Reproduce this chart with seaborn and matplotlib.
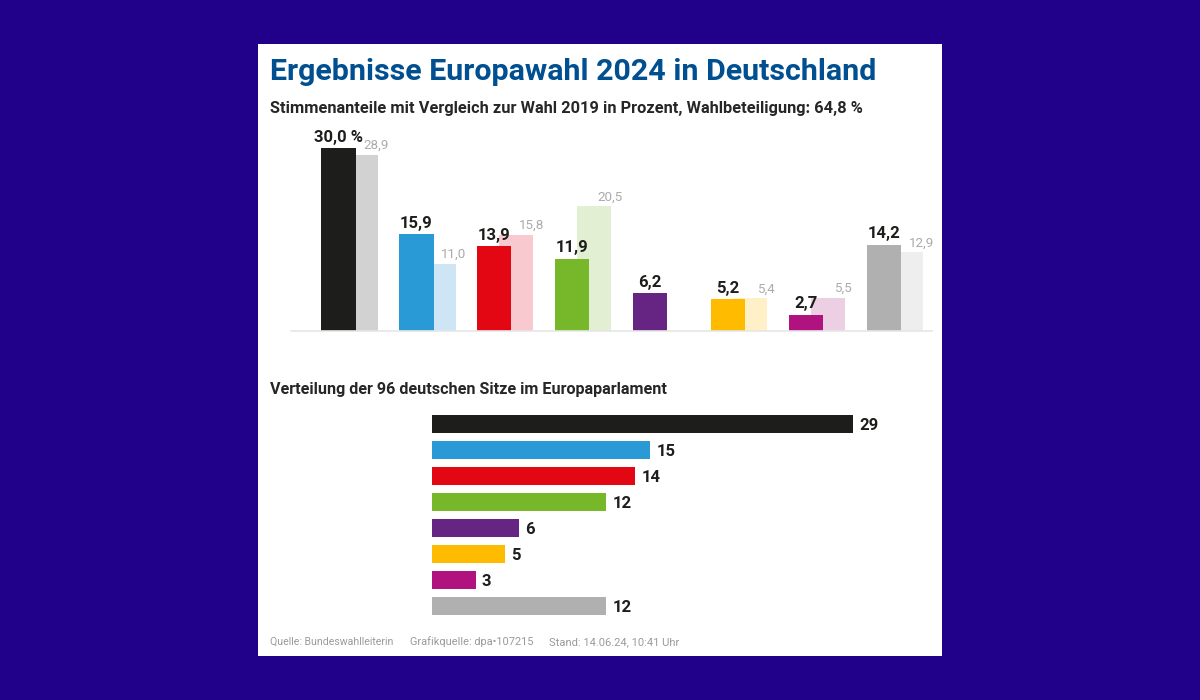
import numpy as np
import seaborn as sns
import matplotlib
matplotlib.use("Agg")
import matplotlib.pyplot as plt
from matplotlib.patches import Rectangle

parties = ["Union", "AfD", "SPD", "Grüne", "BSW", "FDP", "Linke", "Sonstige"]
votes_2024 = [30.0, 15.9, 13.9, 11.9, 6.2, 5.2, 2.7, 14.2]
votes_2019 = [28.9, 11.0, 15.8, 20.5, np.nan, 5.4, 5.5, 12.9]
seats = [29, 15, 14, 12, 6, 5, 3, 12]
colors = ["#1d1d1b", "#2a9ad6", "#e30613", "#76b82a", "#662483", "#ffbb00", "#b0137f", "#b0b0b0"]
light_colors = ["#d2d2d2", "#cde5f5", "#f8c9cf", "#e3efd2", "#eeeeee", "#fff0c8", "#eccfe3", "#eeeeee"]

sns.set_theme(style="white")
plt.rcParams["font.family"] = ["Roboto", "DejaVu Sans"]

W, H = 1200, 700
fig = plt.figure(figsize=(W / 100, H / 100), dpi=100, facecolor="#21008a")

def box(l, t, r, b):
    return [l / W, 1 - b / H, (r - l) / W, (b - t) / H]

def label(x, y, s, **kw):
    fig.text(x / W, 1 - y / H, s, va="baseline", **kw)

fig.patches.append(Rectangle((258 / W, 1 - 656 / H), 684 / W, 612 / H, transform=fig.transFigure,
                             facecolor="white", edgecolor="none", zorder=-5))

label(270, 80, "Ergebnisse Europawahl 2024 in Deutschland", fontsize=21.9, fontweight="bold", color="#004f91")
label(270, 113, "Stimmenanteile mit Vergleich zur Wahl 2019 in Prozent, Wahlbeteiligung: 64,8 %",
      fontsize=11.75, fontweight="bold", color="#262626")
label(270, 394, "Verteilung der 96 deutschen Sitze im Europaparlament", fontsize=11.65, fontweight="bold", color="#262626")
label(270, 645, "Quelle: Bundeswahlleiterin", fontsize=7.6, color="#9a9a9a")
label(410, 645, "Grafikquelle: dpa\u2022107215", fontsize=7.9, color="#9a9a9a")
label(549, 645, "Stand: 14.06.24, 10:41 Uhr", fontsize=8.0, color="#9a9a9a")

# ---- upper chart: vote shares
pitch = 77.9
px_per_pct = 6.09
ax = fig.add_axes(box(291, 131, 932, 331))
ax.patch.set_alpha(0)
pos = np.arange(len(parties), dtype=float)
offset = 22 / pitch
sns.barplot(x=pos + offset, y=votes_2019, hue=parties, palette=light_colors, hue_order=parties,
            native_scale=True, dodge=False, width=0.44, legend=False, saturation=1, linewidth=0, ax=ax, zorder=1)
sns.barplot(x=pos, y=votes_2024, hue=parties, palette=colors, hue_order=parties,
            native_scale=True, dodge=False, width=0.44, legend=False, saturation=1, linewidth=0, ax=ax, zorder=2)
ax.set_xlim(-47.5 / pitch, (932 - 338.5) / pitch)
ax.set_ylim(0, 200 / px_per_pct)
ax.set(xticks=[], yticks=[], xlabel="", ylabel="")
for s in ["top", "left", "right"]:
    ax.spines[s].set_visible(False)
ax.spines["bottom"].set_color("#e6e6e6")
ax.spines["bottom"].set_linewidth(1.2)

for i, (v, p) in enumerate(zip(votes_2024, votes_2019)):
    txt = f"{v:.1f}".replace(".", ",") + (" %" if i == 0 else "")
    ax.annotate(txt, (i, v), xytext=(0, 2.5), textcoords="offset points", ha="center", va="bottom",
                fontsize=12, fontweight="bold", color="#1d1d1b", zorder=4, clip_on=False)
    if not np.isnan(p):
        ax.annotate(f"{p:.1f}".replace(".", ","), (i + 0.48, p), xytext=(0, 2), textcoords="offset points",
                    ha="center", va="bottom", fontsize=9.6, color="#ababab", zorder=3, clip_on=False)

# ---- lower chart: seats
ax2 = fig.add_axes(box(432, 411, 932, 619))
ax2.patch.set_alpha(0)
sns.barplot(x=seats, y=parties, hue=parties, palette=colors, hue_order=parties, orient="h",
            width=0.72, legend=False, saturation=1, linewidth=0, ax=ax2)
ax2.set_xlim(0, 500 / 14.53)
ax2.set(xticks=[], yticks=[], xlabel="", ylabel="")
sns.despine(ax=ax2, left=True, bottom=True, top=True, right=True)
for i, v in enumerate(seats):
    ax2.annotate(str(v), (v, i), xytext=(4.5, 0), textcoords="offset points", ha="left", va="center_baseline",
                 fontsize=12, fontweight="bold", color="#1d1d1b")

fig.savefig("out.png", dpi=100, facecolor=fig.get_facecolor())
